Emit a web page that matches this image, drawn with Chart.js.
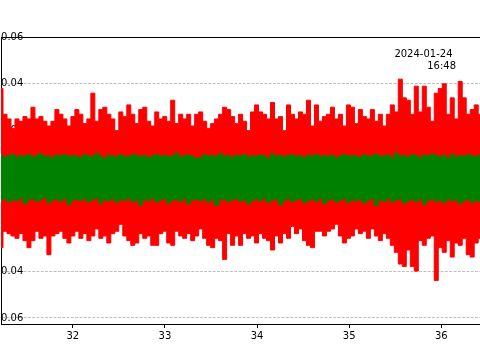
<!DOCTYPE html>
<html>
<head>
<meta charset="utf-8">
<script src="https://cdn.jsdelivr.net/npm/chart.js@4/dist/chart.umd.min.js"></script>
<style>
  html, body { margin: 0; padding: 0; background: #fff; }
  canvas { display: block; }
</style>
</head>
<body>
<canvas id="c" width="480" height="360"></canvas>
<script>
const xStart = 31.22;
const xStep = 0.04335;

const redUpper = [
  0.038, 0.027, 0.025, 0.021, 0.025, 0.024, 0.026, 0.025, 0.030, 0.025,
  0.026, 0.024, 0.022, 0.024, 0.029, 0.027, 0.025, 0.022, 0.026, 0.029,
  0.027, 0.023, 0.025, 0.036, 0.024, 0.029, 0.030, 0.027, 0.025, 0.020,
  0.028, 0.026, 0.031, 0.027, 0.023, 0.029, 0.030, 0.024, 0.022, 0.028,
  0.025, 0.026, 0.024, 0.033, 0.023, 0.027, 0.025, 0.027, 0.022, 0.027,
  0.028, 0.024, 0.021, 0.023, 0.025, 0.027, 0.030, 0.029, 0.026, 0.023,
  0.027, 0.024, 0.020, 0.028, 0.031, 0.028, 0.027, 0.025, 0.032, 0.025,
  0.026, 0.020, 0.031, 0.027, 0.025, 0.028, 0.027, 0.033, 0.022, 0.031,
  0.024, 0.026, 0.027, 0.030, 0.025, 0.027, 0.022, 0.031, 0.030, 0.023,
  0.029, 0.026, 0.025, 0.029, 0.024, 0.027, 0.022, 0.027, 0.031, 0.028,
  0.042, 0.034, 0.033, 0.027, 0.039, 0.028, 0.039, 0.030, 0.024, 0.036,
  0.038, 0.040, 0.027, 0.034, 0.025, 0.041, 0.034, 0.027, 0.029, 0.031, 0.027
];
const redLower = [
  -0.030, -0.023, -0.024, -0.025, -0.026, -0.024, -0.027, -0.030, -0.027, -0.023,
  -0.026, -0.025, -0.033, -0.025, -0.024, -0.023, -0.026, -0.028, -0.025, -0.023,
  -0.026, -0.024, -0.027, -0.025, -0.022, -0.026, -0.025, -0.028, -0.024, -0.023,
  -0.020, -0.025, -0.027, -0.029, -0.028, -0.024, -0.026, -0.025, -0.029, -0.029,
  -0.024, -0.023, -0.028, -0.029, -0.023, -0.025, -0.026, -0.024, -0.027, -0.025,
  -0.022, -0.026, -0.029, -0.030, -0.026, -0.027, -0.035, -0.024, -0.029, -0.025,
  -0.029, -0.024, -0.026, -0.025, -0.028, -0.024, -0.026, -0.027, -0.031, -0.025,
  -0.028, -0.024, -0.026, -0.021, -0.024, -0.022, -0.027, -0.029, -0.030, -0.023,
  -0.023, -0.025, -0.023, -0.022, -0.020, -0.025, -0.028, -0.026, -0.025, -0.022,
  -0.024, -0.023, -0.026, -0.022, -0.025, -0.027, -0.024, -0.026, -0.029, -0.032,
  -0.037, -0.038, -0.031, -0.038, -0.040, -0.027, -0.029, -0.026, -0.025, -0.044,
  -0.030, -0.032, -0.027, -0.034, -0.028, -0.029, -0.026, -0.033, -0.034, -0.028, -0.026
];
const greenUpper = [
  0.0095, 0.0088, 0.0092, 0.0100, 0.0085, 0.0094, 0.0090, 0.0098, 0.0087, 0.0093,
  0.0101, 0.0089, 0.0092, 0.0082, 0.0096, 0.0090, 0.0099, 0.0088, 0.0094, 0.0091,
  0.0085, 0.0097, 0.0092, 0.0089, 0.0103, 0.0090, 0.0080, 0.0095, 0.0092, 0.0088,
  0.0096, 0.0091, 0.0087, 0.0099, 0.0093, 0.0089, 0.0094, 0.0083, 0.0092, 0.0098,
  0.0090, 0.0095, 0.0088, 0.0091, 0.0104, 0.0087, 0.0093, 0.0096, 0.0089, 0.0081,
  0.0085, 0.0097, 0.0091, 0.0094, 0.0088, 0.0102, 0.0090, 0.0093, 0.0084, 0.0095,
  0.0091, 0.0098, 0.0086, 0.0093, 0.0089, 0.0096, 0.0092, 0.0080, 0.0101, 0.0090,
  0.0094, 0.0087, 0.0093, 0.0097, 0.0089, 0.0092, 0.0084, 0.0095, 0.0091, 0.0099,
  0.0088, 0.0093, 0.0090, 0.0096, 0.0082, 0.0092, 0.0098, 0.0089, 0.0094, 0.0091,
  0.0086, 0.0097, 0.0090, 0.0093, 0.0100, 0.0088, 0.0092, 0.0095, 0.0083, 0.0104,
  0.0091, 0.0094, 0.0087, 0.0098, 0.0092, 0.0084, 0.0096, 0.0090, 0.0101, 0.0093,
  0.0088, 0.0095, 0.0081, 0.0099, 0.0087, 0.0094, 0.0090, 0.0097, 0.0092, 0.0089, 0.0095
];
const greenLower = [
  -0.0098, -0.0090, -0.0105, -0.0093, -0.0100, -0.0088, -0.0112, -0.0095, -0.0091, -0.0102,
  -0.0094, -0.0087, -0.0108, -0.0096, -0.0092, -0.0101, -0.0089, -0.0115, -0.0097, -0.0093,
  -0.0099, -0.0090, -0.0104, -0.0095, -0.0088, -0.0110, -0.0094, -0.0100, -0.0091, -0.0106,
  -0.0093, -0.0098, -0.0089, -0.0103, -0.0096, -0.0118, -0.0092, -0.0099, -0.0087, -0.0105,
  -0.0095, -0.0091, -0.0109, -0.0097, -0.0093, -0.0102, -0.0088, -0.0111, -0.0096, -0.0094,
  -0.0100, -0.0090, -0.0106, -0.0093, -0.0120, -0.0097, -0.0091, -0.0104, -0.0095, -0.0089,
  -0.0102, -0.0094, -0.0113, -0.0098, -0.0092, -0.0100, -0.0088, -0.0107, -0.0096, -0.0093,
  -0.0117, -0.0099, -0.0090, -0.0103, -0.0095, -0.0091, -0.0108, -0.0097, -0.0094, -0.0101,
  -0.0089, -0.0112, -0.0096, -0.0092, -0.0104, -0.0098, -0.0090, -0.0106, -0.0094, -0.0100,
  -0.0093, -0.0109, -0.0097, -0.0091, -0.0119, -0.0095, -0.0102, -0.0088, -0.0105, -0.0096,
  -0.0092, -0.0110, -0.0099, -0.0094, -0.0103, -0.0090, -0.0114, -0.0097, -0.0093, -0.0101,
  -0.0096, -0.0108, -0.0091, -0.0100, -0.0095, -0.0112, -0.0098, -0.0093, -0.0106, -0.0097, -0.0102
];

const xTicks = [32, 33, 34, 35, 36];
const yTicks = [-0.06, -0.04, -0.02, 0.00, 0.02, 0.04, 0.06];
const xRange = [31.22, 36.42];
const yRange = [-0.0626, 0.06];
const annotationLines = ['2024-01-24', '16:48'];

const toPts = arr => arr.map((v, i) => ({ x: xStart + i * xStep, y: v }));

Chart.defaults.font.family = '"DejaVu Sans", sans-serif';
Chart.defaults.font.size = 10;
Chart.defaults.color = '#000';

const annot = {
  id: 'annot',
  afterDraw(chart) {
    const ctx = chart.ctx;
    ctx.save();
    ctx.font = '10px "DejaVu Sans"';
    ctx.fillStyle = '#000';
    ctx.textAlign = 'right';
    ctx.textBaseline = 'middle';
    ctx.fillText(annotationLines[0], 452.5, 54);
    ctx.fillText(annotationLines[1], 456, 66);
    ctx.restore();
  }
};

const common = { pointRadius: 0, borderWidth: 1, stepped: 'middle', tension: 0 };

new Chart(document.getElementById('c'), {
  type: 'line',
  data: {
    datasets: [
      Object.assign({ data: toPts(redUpper), borderColor: '#ff0000', backgroundColor: '#ff0000', fill: '+1', order: 2 }, common),
      Object.assign({ data: toPts(redLower), borderColor: '#ff0000', backgroundColor: '#ff0000', fill: false, order: 2 }, common),
      Object.assign({ data: toPts(greenUpper), borderColor: '#008000', backgroundColor: '#008000', fill: '+1', order: 1 }, common),
      Object.assign({ data: toPts(greenLower), borderColor: '#008000', backgroundColor: '#008000', fill: false, order: 1 }, common)
    ]
  },
  options: {
    responsive: false,
    animation: false,
    devicePixelRatio: 1,
    layout: { padding: { left: 1, top: 37, right: 0, bottom: 0 } },
    plugins: { legend: { display: false }, tooltip: { enabled: false } },
    scales: {
      x: {
        type: 'linear',
        position: 'bottom',
        min: xRange[0], max: xRange[1],
        afterBuildTicks: s => { s.ticks = xTicks.map(v => ({ value: v })); },
        afterFit: s => { s.height = 36; },
        ticks: { callback: v => String(v), padding: 2, maxRotation: 0, autoSkip: false, color: '#000' },
        grid: { drawOnChartArea: false, drawTicks: true, tickLength: 4, tickColor: '#000', tickWidth: 1 },
        border: { display: true, color: '#000', width: 1 }
      },
      x2: {
        type: 'linear',
        position: 'top',
        display: true,
        ticks: { display: false },
        grid: { display: false, drawTicks: false },
        border: { display: true, color: '#000', width: 1 },
        afterFit: s => { s.height = 0; }
      },
      y: {
        type: 'linear',
        position: 'left',
        min: yRange[0], max: yRange[1],
        afterBuildTicks: s => { s.ticks = yTicks.map(v => ({ value: v })); },
        afterFit: s => { s.width = 0; },
        ticks: {
          mirror: true,
          crossAlign: 'far',
          padding: -8.3,
          autoSkip: false,
          color: '#000',
          callback: v => (v < -1e-9 ? '\u2212' + Math.abs(v).toFixed(2) : Math.abs(v).toFixed(2))
        },
        grid: { color: '#b0b0b0', lineWidth: 0.8, drawTicks: false },
        border: { display: true, color: '#000', width: 1, dash: [3, 1.3] }
      }
    }
  },
  plugins: [annot]
});
</script>
</body>
</html>
